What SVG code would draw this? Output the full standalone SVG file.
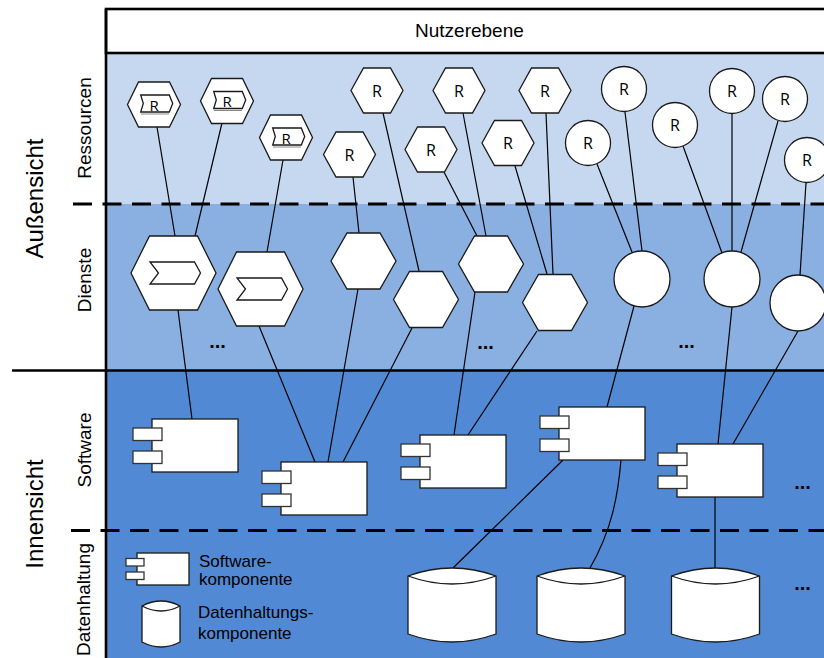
<svg xmlns="http://www.w3.org/2000/svg" xmlns:xlink="http://www.w3.org/1999/xlink" width="824" height="658" viewBox="0 0 824 658">
<style>
.lbl{font-family:"Liberation Sans",Arial,sans-serif;fill:#000}
.big{font-size:24px}
.mid{font-size:19px}
.leg{font-size:17px}
.r{font-family:"Open Sans","Liberation Sans",sans-serif;font-size:16px;text-anchor:middle;fill:#000}
.rs{font-size:15px}
.dots{font-family:"Liberation Sans",Arial,sans-serif;font-size:20px;font-weight:bold;text-anchor:middle}
.shape{fill:#fff;stroke:#1a1a1a;stroke-width:1.3}
.port{fill:#fff;stroke:#333;stroke-width:1.3}
.shadow{fill:none;stroke:#888;stroke-width:1}
.con{stroke:#000;stroke-width:1.2;fill:none}
.frame{stroke:#000;stroke-width:2.6;fill:none}
.dash{stroke:#000;stroke-width:2.8;stroke-dasharray:19 10.5;fill:none}
</style>
<defs>
<polygon id="hexR" points="-26,0 -13.5,-22.5 13.5,-22.5 26,0 13.5,22.5 -13.5,22.5"/>
<polygon id="hexRC" points="-26.5,0 -15.5,-22.5 15.5,-22.5 26.5,0 15.5,22.5 -15.5,22.5"/>
<polygon id="chevR" points="-13.3,-9.5 15.3,-9.5 18.7,-1 15.3,7.5 -13.3,7.5 -10.7,-1"/>
<line id="chevRS" x1="-13" y1="9.5" x2="15" y2="9.5"/>
<polygon id="hexS" points="-32.5,0 -16.5,-28 16.5,-28 32.5,0 16.5,28 -16.5,28"/>
<polygon id="hexSC" points="-42.5,0 -24,-37 24,-37 42.5,0 24,37 -24,37"/>
<polygon id="chevS" points="-23.5,-11 21,-11 27,0 21,11 -23.5,11 -15,0"/>
<g id="comp">
<rect x="0" y="0" width="86" height="53" class="shape"/>
<rect x="-19" y="9" width="29" height="12.5" class="port"/>
<rect x="-19" y="32" width="29" height="12.5" class="port"/>
</g>
<g id="cyl">
<path d="M0,8 Q44,-8 88,8 L88,66 Q44,82 0,66 Z" class="shape"/>
<path d="M0,8 Q44,24 88,8" class="shape" fill="none"/>
</g>
</defs>

<g id="background">
<rect x="0" y="0" width="824" height="658" fill="#fff"/>
<rect x="106" y="53" width="718" height="151" fill="#C5D8EF"/>
<rect x="106" y="204" width="718" height="166" fill="#8AAFE1"/>
<rect x="106" y="370" width="718" height="288" fill="#5289D4"/>
<rect x="106" y="9" width="722" height="44" fill="#fff" class="frame"/>
<line x1="106" y1="9" x2="106" y2="658" class="frame"/>
<line x1="12" y1="370.5" x2="824" y2="370.5" class="frame"/>
<line x1="73" y1="204" x2="824" y2="204" class="dash"/>
<line x1="71" y1="530.5" x2="824" y2="530.5" class="dash"/>
</g>

<g id="labels">
<text x="415" y="36.5" class="lbl mid">Nutzerebene</text>
<text transform="translate(43,198.5) rotate(-90)" text-anchor="middle" class="lbl big">Außensicht</text>
<text transform="translate(43,514) rotate(-90)" text-anchor="middle" class="lbl big">Innensicht</text>
<text transform="translate(91,128) rotate(-90)" text-anchor="middle" class="lbl mid">Ressourcen</text>
<text transform="translate(91,280) rotate(-90)" text-anchor="middle" class="lbl mid">Dienste</text>
<text transform="translate(91,450) rotate(-90)" text-anchor="middle" class="lbl mid">Software</text>
<text transform="translate(90,543) rotate(-90)" text-anchor="end" class="lbl mid">Datenhaltung</text>
<text x="217.5" y="348" class="dots">...</text>
<text x="485.5" y="348.5" class="dots">...</text>
<text x="686.5" y="348" class="dots">...</text>
<text x="802.5" y="488.5" class="dots">...</text>
<text x="802.5" y="590" class="dots">...</text>
</g>

<g id="connectors">
<line x1="157" y1="127" x2="175" y2="236" class="con"/>
<line x1="222" y1="123" x2="195" y2="236" class="con"/>
<line x1="283" y1="160" x2="267" y2="252" class="con"/>
<line x1="353" y1="177" x2="359" y2="233" class="con"/>
<line x1="383" y1="113" x2="419" y2="271" class="con"/>
<line x1="444" y1="172" x2="477" y2="236" class="con"/>
<line x1="463" y1="113" x2="486" y2="236" class="con"/>
<line x1="515" y1="166" x2="547" y2="274" class="con"/>
<line x1="546" y1="113" x2="553" y2="274" class="con"/>
<line x1="597" y1="164" x2="632" y2="252" class="con"/>
<line x1="625" y1="112" x2="642" y2="251" class="con"/>
<line x1="683" y1="146" x2="722" y2="253" class="con"/>
<line x1="732" y1="113" x2="732" y2="251" class="con"/>
<line x1="778" y1="121" x2="741" y2="252" class="con"/>
<line x1="806" y1="183" x2="800" y2="275" class="con"/>
<line x1="178" y1="310" x2="192" y2="419" class="con"/>
<line x1="259" y1="326" x2="315" y2="462" class="con"/>
<line x1="358" y1="289" x2="328" y2="462" class="con"/>
<line x1="412" y1="328" x2="343" y2="462" class="con"/>
<line x1="475" y1="292" x2="454" y2="435" class="con"/>
<line x1="537" y1="331" x2="468" y2="435" class="con"/>
<line x1="634" y1="306" x2="607" y2="407" class="con"/>
<line x1="732" y1="307" x2="718" y2="444" class="con"/>
<line x1="798" y1="331" x2="733" y2="444" class="con"/>
<line x1="563" y1="460" x2="453" y2="568" class="con"/>
<path d="M621,460 C618,495 612,530 590,568" class="con"/>
<line x1="715" y1="497" x2="715" y2="568" class="con"/>
</g>

<g id="res1" transform="translate(154,104.5)"><use href="#hexRC" class="shape"/><use href="#chevR" class="shape"/><use href="#chevRS" class="shadow"/><text x="0" y="6" class="r rs">R</text></g>
<g id="res2" transform="translate(227,101)"><use href="#hexRC" class="shape"/><use href="#chevR" class="shape"/><use href="#chevRS" class="shadow"/><text x="0" y="6" class="r rs">R</text></g>
<g id="res3" transform="translate(286,137.5)"><use href="#hexRC" class="shape"/><use href="#chevR" class="shape"/><use href="#chevRS" class="shadow"/><text x="0" y="6" class="r rs">R</text></g>
<g id="res4" transform="translate(349.5,154.5)"><use href="#hexR" class="shape"/><text x="0" y="6" class="r">R</text></g>
<g id="res5" transform="translate(377,90.5)"><use href="#hexR" class="shape"/><text x="0" y="6" class="r">R</text></g>
<g id="res6" transform="translate(431,149.5)"><use href="#hexR" class="shape"/><text x="0" y="6" class="r">R</text></g>
<g id="res7" transform="translate(459,90.5)"><use href="#hexR" class="shape"/><text x="0" y="6" class="r">R</text></g>
<g id="res8" transform="translate(508,143)"><use href="#hexR" class="shape"/><text x="0" y="6" class="r">R</text></g>
<g id="res9" transform="translate(545,90.5)"><use href="#hexR" class="shape"/><text x="0" y="6" class="r">R</text></g>
<g id="res10" transform="translate(588,143)"><circle r="22.5" class="shape"/><text x="0" y="6" class="r">R</text></g>
<g id="res11" transform="translate(624,89)"><circle r="22.5" class="shape"/><text x="0" y="6" class="r">R</text></g>
<g id="res12" transform="translate(675,125)"><circle r="22.5" class="shape"/><text x="0" y="6" class="r">R</text></g>
<g id="res13" transform="translate(732,91)"><circle r="22.5" class="shape"/><text x="0" y="6" class="r">R</text></g>
<g id="res14" transform="translate(785,99)"><circle r="22.5" class="shape"/><text x="0" y="6" class="r">R</text></g>
<g id="res15" transform="translate(807,160)"><circle r="22.5" class="shape"/><text x="0" y="6" class="r">R</text></g>

<g id="svc1" transform="translate(173.5,273)"><use href="#hexSC" class="shape"/><use href="#chevS" class="shape"/></g>
<g id="svc2" transform="translate(260.5,289)"><use href="#hexSC" class="shape"/><use href="#chevS" class="shape"/></g>
<g id="svc3" transform="translate(363.5,261)"><use href="#hexS" class="shape"/></g>
<g id="svc4" transform="translate(426,299.5)"><use href="#hexS" class="shape"/></g>
<g id="svc5" transform="translate(491,264)"><use href="#hexS" class="shape"/></g>
<g id="svc6" transform="translate(555,302.5)"><use href="#hexS" class="shape"/></g>
<g id="svc7"><circle cx="642" cy="279" r="28" class="shape"/></g>
<g id="svc8"><circle cx="732" cy="279" r="28" class="shape"/></g>
<g id="svc9"><circle cx="798" cy="303" r="28" class="shape"/></g>

<g id="sw1" transform="translate(152,419)"><use href="#comp"/></g>
<g id="sw2" transform="translate(281,462)"><use href="#comp"/></g>
<g id="sw3" transform="translate(420,435)"><use href="#comp"/></g>
<g id="sw4" transform="translate(559,407)"><use href="#comp"/></g>
<g id="sw5" transform="translate(677,444)"><use href="#comp"/></g>

<g id="db1" transform="translate(408,568)"><use href="#cyl"/></g>
<g id="db2" transform="translate(537,568)"><use href="#cyl"/></g>
<g id="db3" transform="translate(671.5,568)"><use href="#cyl"/></g>

<g id="legend-software">
<rect x="137" y="553" width="52" height="32" class="shape"/>
<rect x="126" y="558.5" width="18" height="7.5" class="port"/>
<rect x="126" y="572" width="18" height="7.5" class="port"/>
<text x="199" y="567" class="lbl leg">Software-</text>
<text x="199" y="585" class="lbl leg">komponente</text>
</g>
<g id="legend-data">
<path d="M142,606 Q161,596 180,606 L180,642 Q161,652 142,642 Z" class="shape"/>
<path d="M142,606 Q161,616 180,606" class="shape" fill="none"/>
<text x="198" y="618" class="lbl leg">Datenhaltungs-</text>
<text x="198" y="639" class="lbl leg">komponente</text>
</g>
</svg>
